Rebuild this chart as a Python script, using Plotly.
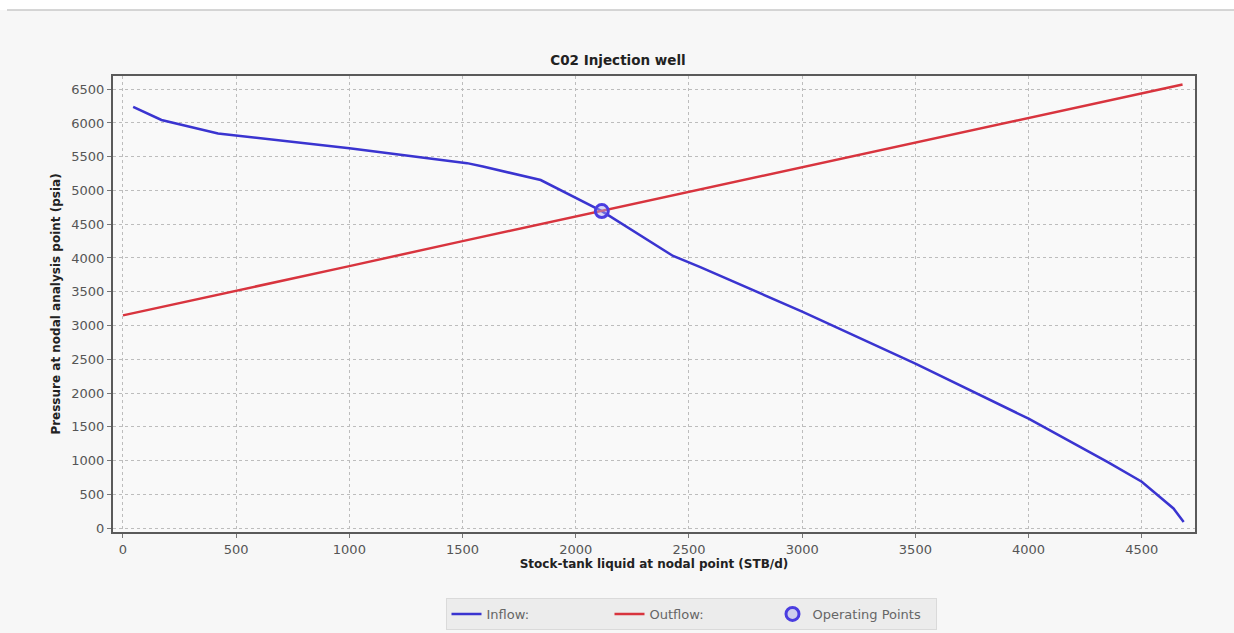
import plotly.graph_objects as go

# Data
inflow_x = [45, 170, 420, 1000, 1520, 1590, 1845, 2115, 2430, 2550, 3000, 3500, 4000, 4350, 4500, 4640, 4685]
inflow_y = [6240, 6045, 5845, 5625, 5405, 5355, 5155, 4695, 4030, 3865, 3205, 2435, 1620, 975, 685, 290, 90]

outflow_x = [0, 500, 1000, 1500, 2000, 2500, 3000, 3500, 4000, 4500, 4680]
outflow_y = [3150, 3510, 3880, 4250, 4615, 4975, 5340, 5710, 6075, 6445, 6570]

op_x = [2115]
op_y = [4695]

x_ticks = [0, 500, 1000, 1500, 2000, 2500, 3000, 3500, 4000, 4500]
y_ticks = [0, 500, 1000, 1500, 2000, 2500, 3000, 3500, 4000, 4500, 5000, 5500, 6000, 6500]

BLUE = "#3a34d0"
RED = "#d8343e"
FONT = "DejaVu Sans"

fig = go.Figure()
fig.add_trace(go.Scatter(x=inflow_x, y=inflow_y, mode="lines", name="Inflow:",
                         line=dict(color=BLUE, width=2.5)))
fig.add_trace(go.Scatter(x=outflow_x, y=outflow_y, mode="lines", name="Outflow:",
                         line=dict(color=RED, width=2.5)))
fig.add_trace(go.Scatter(x=op_x, y=op_y, mode="markers", name="Operating Points",
                         marker=dict(symbol="circle", size=13, color="rgba(170,170,240,0.45)",
                                     line=dict(color="#4a3de0", width=3))))

axis_common = dict(
    showgrid=True, gridcolor="#bdbdbd", griddash="dot", gridwidth=1,
    showline=True, linecolor="#5a5a5a", linewidth=2, mirror=True,
    ticks="outside", ticklen=4, tickcolor="#777", zeroline=False,
    tickfont=dict(family=FONT, size=13, color="#555"),
)

fig.update_layout(
    width=1234, height=633,
    margin=dict(l=113, r=39, t=76, b=101, autoexpand=False),
    paper_bgcolor="#f7f7f7", plot_bgcolor="#f9f9f9",
    title=dict(text="<b>C02 Injection well</b>", x=(618 - 0) / 1234, xanchor="center",
               y=1 - 60 / 633, yanchor="middle",
               font=dict(family=FONT, size=13.5, color="#222")),
    xaxis=dict(range=[-44, 4735], tickvals=x_ticks,
               title=dict(text="<b>Stock-tank liquid at nodal point (STB/d)</b>",
                          font=dict(family=FONT, size=12, color="#222"), standoff=4),
               **axis_common),
    yaxis=dict(range=[-59, 6696], tickvals=y_ticks,
               title=dict(text="<b>Pressure at nodal analysis point (psia)</b>",
                          font=dict(family=FONT, size=12, color="#222"), standoff=8),
               **axis_common),
    legend=dict(orientation="h", x=(691 - 113) / 1082, xanchor="center",
                y=-(598 - 532) / 456, yanchor="top",
                bgcolor="#ececec", bordercolor="#dadada", borderwidth=1,
                font=dict(family=FONT, size=13, color="#666"),
                entrywidth=118, itemwidth=30),
    showlegend=True,
    shapes=[
        dict(type="rect", xref="paper", yref="paper", x0=-0.2, x1=1.2,
             y0=(532 - 10) / 456, y1=1.3, fillcolor="white", line=dict(width=0), layer="below"),
        dict(type="line", xref="paper", yref="paper", x0=(7 - 113) / 1082, x1=(1234 - 113) / 1082,
             y0=(532 - 10) / 456, y1=(532 - 10) / 456, line=dict(color="#c8c8c8", width=1.5)),
    ],
)

fig.write_html("out.html", config={"displayModeBar": False},
               post_script="document.body.style.margin='0';")
